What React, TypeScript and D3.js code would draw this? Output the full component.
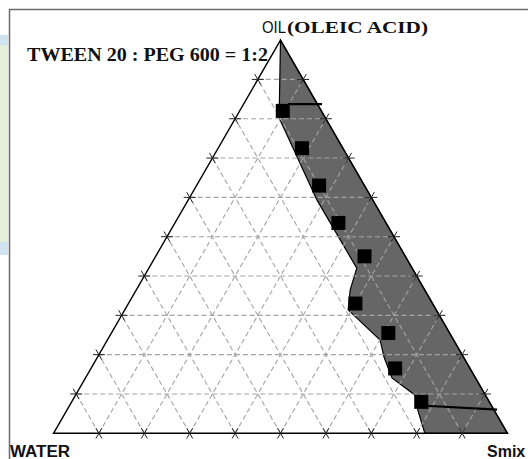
import React, { useRef, useEffect } from 'react';
import * as d3 from 'd3';

// ternary data in percent (water = 100 - oil - smix)
const pointOil = [82, 72.5, 63, 53.5, 45, 33, 25.5, 16.5, 8];
const pointSmix = [9.5, 18.5, 27, 36, 46, 50, 61, 67, 77];

// left boundary of the shaded region, apex down to the base
const boundaryOil = [100, 80.2, 59.3, 42.0, 36.5, 31.4, 23.7, 19.4, 14.1, 9.7, 5.9, 0];
const boundarySmix = [0, 9.6, 28.4, 45.8, 47.1, 49.2, 60.1, 63.1, 67.5, 74.8, 77.3, 81.8];

// tie lines: [start, end]
const tieOil = [[83.7, 83.7], [7.0, 6.0]];
const tieSmix = [[9.8, 17.3], [78.5, 94.7]];

const gridTicks = [10, 20, 30, 40, 50, 60, 70, 80, 90];

const W = 528;
const H = 459;

const TernaryChart: React.FC = () => {
    const ref = useRef<SVGSVGElement>(null);

    useEffect(() => {
        if (ref.current) drawChart();
    }, []);

    const drawChart = () => {
        const svg = d3.select(ref.current);
        svg.selectAll('*').remove();

        const xScale = d3.scaleLinear().domain([0, 100]).range([53.5, 507.5]);
        const yScale = d3.scaleLinear().domain([0, 100]).range([433.3, 40.1]);
        const proj = (oil: number, smix: number): [number, number] =>
            [xScale(smix + oil / 2), yScale(oil)];

        svg.append('rect').attr('width', W).attr('height', H).attr('fill', '#fff');

        // strip of page background at the left
        svg.append('rect').attr('x', 0).attr('y', 35).attr('width', 8).attr('height', 10).attr('fill', '#cfe3f1');
        svg.append('rect').attr('x', 0).attr('y', 45).attr('width', 8).attr('height', 197).attr('fill', '#e3efd9');
        svg.append('rect').attr('x', 0).attr('y', 242).attr('width', 8).attr('height', 13).attr('fill', '#cfe3f1');

        // frame
        svg.append('path').attr('d', `M9.5,${H} V9.5 H${W}`)
            .attr('fill', 'none').attr('stroke', '#6a6a6a').attr('stroke-width', 1.5);

        const line = d3.line<[number, number]>();

        // shaded region
        const region: [number, number][] = boundaryOil.map((o, i) => proj(o, boundarySmix[i]));
        region.push(proj(0, 100));
        svg.append('path')
            .attr('d', line(region) + 'Z')
            .attr('fill', '#666')
            .attr('stroke', '#000')
            .attr('stroke-width', 1.2);

        // dashed grid
        const grid = svg.append('g')
            .attr('stroke', '#a4a4a4')
            .attr('stroke-width', 1.1)
            .attr('stroke-dasharray', '5,3')
            .attr('fill', 'none');
        gridTicks.forEach(t => {
            grid.append('path').attr('d', line([proj(t, 0), proj(t, 100 - t)]));
            grid.append('path').attr('d', line([proj(0, t), proj(100 - t, t)]));
            grid.append('path').attr('d', line([proj(0, 100 - t), proj(100 - t, 0)]));
        });

        // triangle
        svg.append('path')
            .attr('d', line([proj(0, 0), proj(100, 0), proj(0, 100)]) + 'Z')
            .attr('fill', 'none')
            .attr('stroke', '#000')
            .attr('stroke-width', 1.4);

        // tick crosses on the edges
        const hl = 6;
        const dirs = {
            h: [1, 0],
            ur: [0.5, -0.866],
            dr: [0.5, 0.866],
        };
        const ticks = svg.append('g').attr('stroke', '#222').attr('stroke-width', 1);
        const cross = (p: [number, number], a: number[], b: number[]) => {
            [a, b].forEach(d => {
                ticks.append('line')
                    .attr('x1', p[0] - d[0] * hl).attr('y1', p[1] - d[1] * hl)
                    .attr('x2', p[0] + d[0] * hl).attr('y2', p[1] + d[1] * hl);
            });
        };
        gridTicks.forEach(t => {
            cross(proj(t, 0), dirs.h, dirs.dr);        // left edge
            cross(proj(0, t), dirs.ur, dirs.dr);       // base
            cross(proj(t, 100 - t), dirs.h, dirs.ur);  // right edge
        });

        // tie lines
        tieOil.forEach((o, i) => {
            svg.append('path')
                .attr('d', line([proj(o[0], tieSmix[i][0]), proj(o[1], tieSmix[i][1])]))
                .attr('stroke', '#000')
                .attr('stroke-width', 2.2)
                .attr('fill', 'none');
        });

        // data points
        const s = 14;
        svg.append('g').selectAll('rect')
            .data(pointOil)
            .enter().append('rect')
            .attr('x', (d, i) => proj(d, pointSmix[i])[0] - s / 2)
            .attr('y', d => yScale(d) - s / 2)
            .attr('width', s)
            .attr('height', s)
            .attr('fill', '#000');

        // labels
        svg.append('text')
            .attr('x', 262).attr('y', 33)
            .attr('font-family', '"Liberation Sans", Arial, sans-serif')
            .attr('font-size', 17)
            .attr('textLength', 24)
            .attr('lengthAdjust', 'spacingAndGlyphs')
            .attr('fill', '#111')
            .text('OIL');
        svg.append('text')
            .attr('x', 287).attr('y', 33)
            .attr('font-family', '"Liberation Serif", "Times New Roman", serif')
            .attr('font-weight', 'bold')
            .attr('font-size', 17)
            .attr('textLength', 141)
            .attr('lengthAdjust', 'spacingAndGlyphs')
            .attr('fill', '#111')
            .text('(OLEIC ACID)');
        svg.append('text')
            .attr('x', 27).attr('y', 61)
            .attr('font-family', '"Liberation Serif", "Times New Roman", serif')
            .attr('font-weight', 'bold')
            .attr('font-size', 18)
            .attr('textLength', 241)
            .attr('lengthAdjust', 'spacingAndGlyphs')
            .attr('fill', '#111')
            .text('TWEEN 20 : PEG 600 = 1:2');
        svg.append('text')
            .attr('x', 10).attr('y', 457)
            .attr('font-family', '"Liberation Sans", Arial, sans-serif')
            .attr('font-weight', 'bold')
            .attr('font-size', 16)
            .attr('textLength', 60)
            .attr('lengthAdjust', 'spacingAndGlyphs')
            .attr('fill', '#111')
            .text('WATER');
        svg.append('text')
            .attr('x', 487).attr('y', 457)
            .attr('font-family', '"Liberation Sans", Arial, sans-serif')
            .attr('font-weight', 'bold')
            .attr('font-size', 16)
            .attr('fill', '#111')
            .text('Smix');
    };

    return (
        <svg ref={ref} width={W} height={H} style={{ position: 'absolute', left: 0, top: 0 }} />
    );
};

export default function App() {
    return <TernaryChart />;
}
